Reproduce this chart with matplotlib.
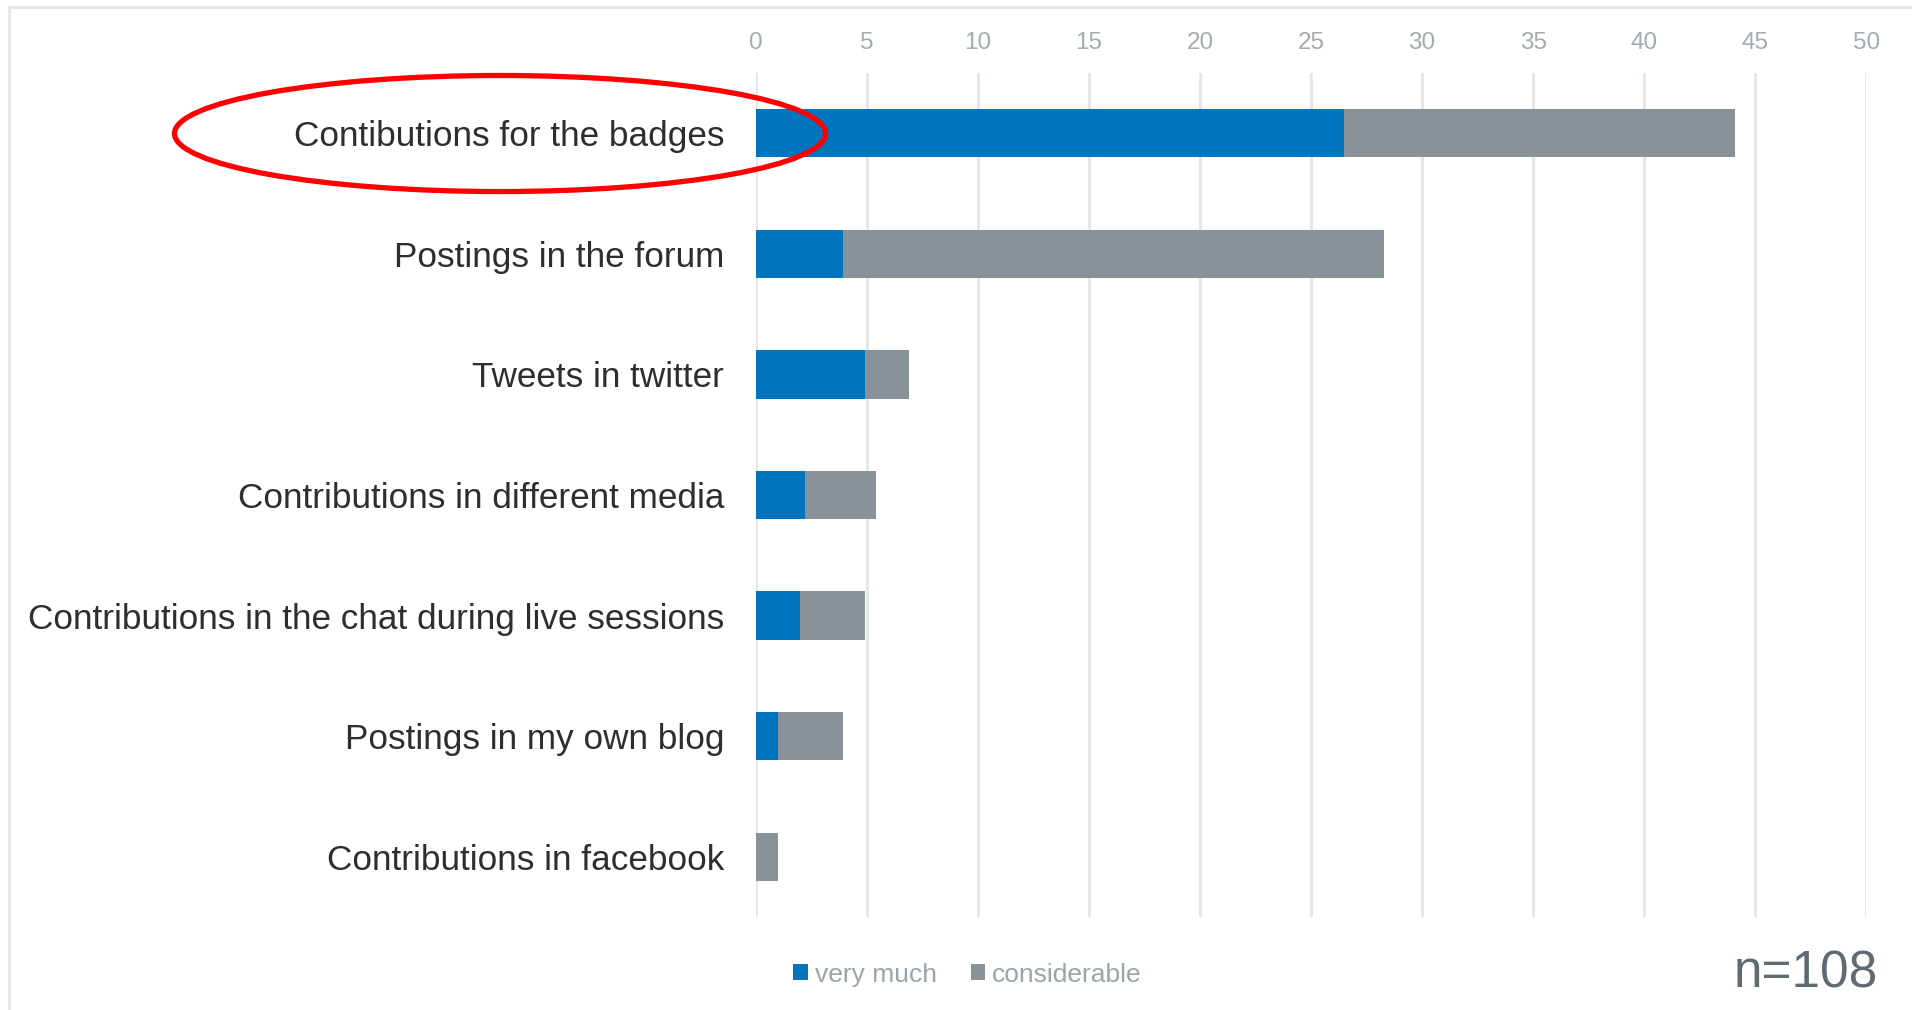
import numpy as np
import matplotlib
matplotlib.use('Agg')
import matplotlib.pyplot as plt
from matplotlib.patches import Ellipse, Rectangle

# font setting
plt.rcParams['font.family'] = ['Liberation Sans', 'DejaVu Sans']

# data
categories = ['Contibutions for the badges', 'Postings in the forum', 'Tweets in twitter',
              'Contributions in different media', 'Contributions in the chat during live sessions',
              'Postings in my own blog', 'Contributions in facebook']
very_much = [26.5, 3.9, 4.9, 2.2, 2.0, 1.0, 0.0]
considerable = [17.6, 24.4, 2.0, 3.2, 2.9, 2.9, 1.0]
series_names = ['very much', 'considerable']
x_ticks = [0, 5, 10, 15, 20, 25, 30, 35, 40, 45, 50]
sample_note = 'n=108'

blue = '#0075bd'
grey = '#889298'

fig = plt.figure(figsize=(19.12, 10.10), dpi=100)
ax = fig.add_axes([0.3954, 0.0921, 0.5806, 0.8356])

y = np.arange(len(categories))
ax.barh(y, very_much, height=0.4, color=blue, label=series_names[0], zorder=3)
ax.barh(y, considerable, left=very_much, height=0.4, color=grey, label=series_names[1], zorder=3)

ax.set_ylim(len(categories) - 0.5, -0.5)
ax.set_xlim(0, 50)
ax.set_xticks(x_ticks)
ax.xaxis.tick_top()
ax.tick_params(axis='x', length=0, pad=14, labelsize=17.5, labelcolor='#a3abb0')
ax.set_yticks(y)
ax.set_yticklabels(categories)
ax.tick_params(axis='y', length=0, pad=23, labelsize=25.3, labelcolor='#2e2e2e')
ax.grid(axis='x', color='#e2e6e6', linewidth=2, zorder=0)
for s in ax.spines.values():
    s.set_visible(False)

# legend
leg = fig.legend(loc='center', bbox_to_anchor=(0.506, 0.035), ncol=2, frameon=False,
                 fontsize=19, handlelength=0.55, handleheight=0.55, handletextpad=0.25,
                 columnspacing=1.3)
for t in leg.get_texts():
    t.set_color('#9aa4aa')

fig.text(0.982, 0.036, sample_note, ha='right', va='center', fontsize=37, color='#5f6b70')

# outer frame
fig.patches.append(Rectangle((0.0045, -0.01), 1.2, 1.0035, transform=fig.transFigure,
                             fill=False, edgecolor='#e3e7e7', linewidth=2))

# red highlight ellipse
fig.patches.append(Ellipse((0.2615, 0.8678), 0.3405, 0.1149, transform=fig.transFigure,
                           fill=False, edgecolor='#ff0000', linewidth=3.8, zorder=10))

fig.savefig('out.png', dpi=100)
